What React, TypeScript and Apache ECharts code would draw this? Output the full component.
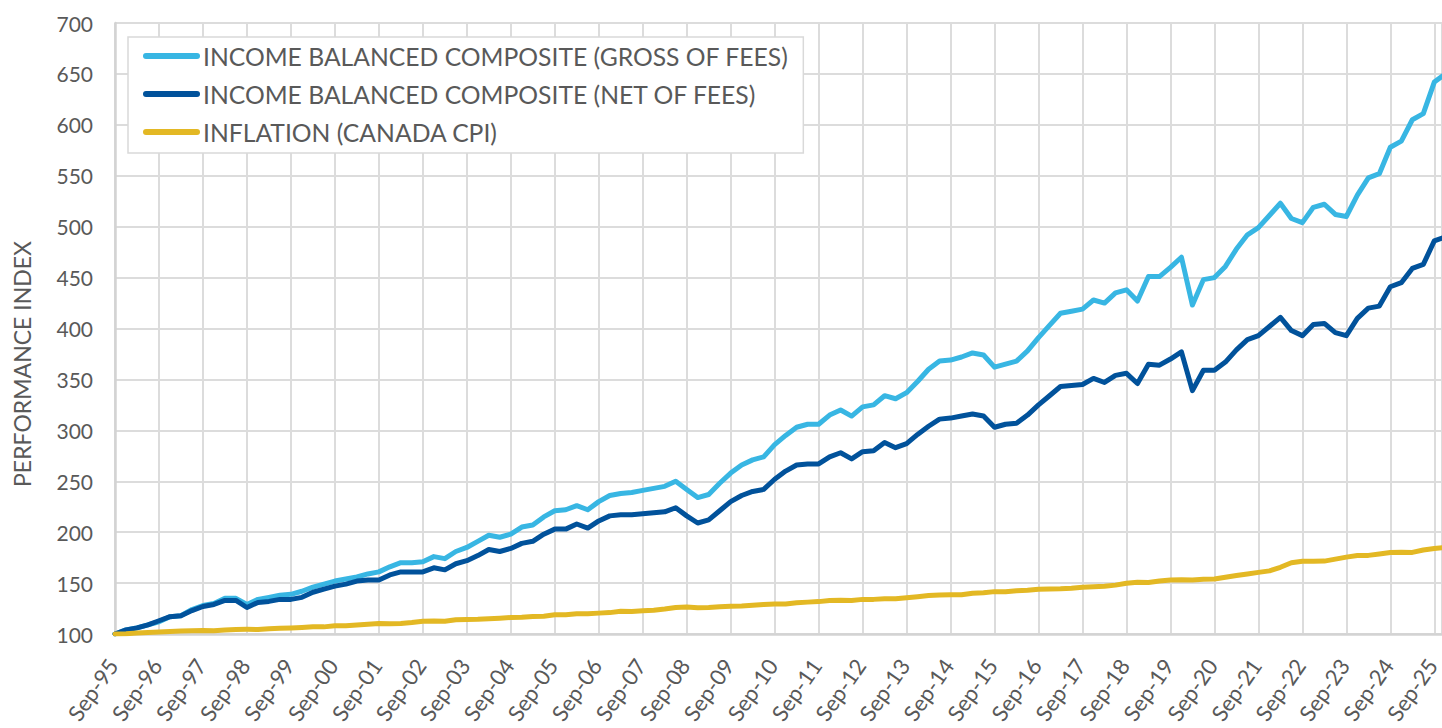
import React, { useEffect, useRef } from "react";
import * as echarts from "echarts";

// Year tick labels (one per 4 quarters)
const yearTickLabels = [
  "Sep-95", "Sep-96", "Sep-97", "Sep-98", "Sep-99", "Sep-00", "Sep-01", "Sep-02",
  "Sep-03", "Sep-04", "Sep-05", "Sep-06", "Sep-07", "Sep-08", "Sep-09", "Sep-10",
  "Sep-11", "Sep-12", "Sep-13", "Sep-14", "Sep-15", "Sep-16", "Sep-17", "Sep-18",
  "Sep-19", "Sep-20", "Sep-21", "Sep-22", "Sep-23", "Sep-24", "Sep-25",
];

const seriesNames = [
  "INCOME BALANCED COMPOSITE (GROSS OF FEES)",
  "INCOME BALANCED COMPOSITE (NET OF FEES)",
  "INFLATION (CANADA CPI)",
];

// Quarterly values, Sep-95 .. Dec-25
const grossValues = [
  100, 104, 106, 109, 112, 117, 118, 124, 128, 130,
  135, 135, 129, 134, 136, 138, 139, 142, 146, 149,
  152, 154, 156, 159, 161, 166, 170, 170, 171, 176,
  174, 181, 185, 191, 197, 195, 198, 205, 207, 215,
  221, 222, 226, 222, 230, 236, 238, 239, 241, 243,
  245, 250, 242, 234, 237, 248, 258, 266, 271, 274,
  286, 295, 303, 306, 306, 315, 320, 314, 323, 325,
  334, 331, 337, 348, 360, 368, 369, 372, 376, 374,
  362, 365, 368, 378, 391, 403, 415, 417, 419, 428,
  425, 435, 438, 427, 451, 451, 460, 470, 423, 448,
  450, 461, 478, 492, 499, 511, 523, 508, 504, 519,
  522, 512, 510, 531, 548, 552, 578, 584, 605, 611,
  642, 650,
];

const netValues = [
  100, 104, 106, 109, 113, 117, 118, 123, 127, 129,
  133, 133, 126, 131, 132, 134, 134, 136, 141, 144,
  147, 149, 152, 153, 153, 158, 161, 161, 161, 165,
  163, 169, 172, 177, 183, 181, 184, 189, 191, 198,
  203, 203, 208, 204, 211, 216, 217, 217, 218, 219,
  220, 224, 216, 209, 212, 221, 230, 236, 240, 242,
  252, 260, 266, 267, 267, 274, 278, 272, 279, 280,
  288, 283, 287, 296, 304, 311, 312, 314, 316, 314,
  303, 306, 307, 315, 325, 334, 343, 344, 345, 351,
  347, 354, 356, 346, 365, 364, 370, 377, 339, 359,
  359, 367, 379, 389, 393, 402, 411, 398, 393, 404,
  405, 396, 393, 410, 420, 422, 441, 445, 459, 463,
  486, 490,
];

const inflationValues = [
  100.0, 100.3, 100.9, 101.5, 102.0, 102.4, 102.9, 103.2, 103.4, 103.2,
  103.9, 104.5, 104.6, 104.5, 105.2, 105.6, 106.0, 106.5, 107.2, 107.0,
  108.0, 108.2, 108.8, 109.5, 110.2, 110.0, 110.4, 111.3, 112.5, 112.8,
  112.6, 114.0, 114.3, 114.5, 115.0, 115.5, 116.2, 116.5, 117.3, 117.5,
  118.8, 119.0, 119.8, 119.8, 120.5, 121.0, 122.3, 122.2, 122.8, 123.4,
  124.5, 126.0, 126.4, 125.7, 126.0, 126.8, 127.3, 127.6, 128.3, 129.0,
  129.5, 129.5, 130.6, 131.3, 131.8, 132.8, 133.2, 133.0, 134.0, 134.0,
  134.6, 134.7, 135.6, 136.6, 137.8, 138.3, 138.6, 138.5, 140.1, 140.4,
  141.6, 141.5, 142.4, 143.0, 144.0, 144.3, 144.4, 145.0, 146.0, 146.5,
  147.0, 148.0, 149.8, 150.8, 150.5, 152.0, 153.0, 153.2, 153.0, 153.8,
  154.0, 155.8, 157.5, 159.0, 160.5, 162.0, 165.5, 170.0, 171.5, 171.4,
  171.6, 173.5, 175.5, 177.0, 177.2, 178.5, 180.0, 180.2, 180.1, 182.5,
  184.0, 185.0,
];

const seriesColors = ["#38B6E3", "#01529B", "#E3B824"];
const TEXT_COLOR = "#595959";
const FONT = "Lato";

export default function App() {
  const ref = useRef<HTMLDivElement>(null);

  useEffect(() => {
    if (!ref.current) return;
    const chart = echarts.init(ref.current, undefined, { renderer: "svg" });
    const toPairs = (arr: number[]) => arr.map((v, i) => [i, v]);
    const lastTick = (yearTickLabels.length - 1) * 4;

    chart.setOption({
      animation: false,
      backgroundColor: "#ffffff",
      textStyle: { fontFamily: FONT },
      grid: {
        left: 115,
        top: 23,
        right: 0,
        bottom: 94,
        containLabel: false,
        outerBoundsMode: "none",
      },
      legend: {
        show: true,
        orient: "vertical",
        left: 128,
        top: 37,
        data: seriesNames,
        backgroundColor: "#ffffff",
        borderColor: "#D9D9D9",
        borderWidth: 1.5,
        borderRadius: 0,
        padding: [5, 15, 7, 15],
        itemGap: 10,
        itemWidth: 57,
        itemHeight: 6,
        icon: "path://M3,0 L54,0 A3,3 0 0 1 54,6 L3,6 A3,3 0 0 1 3,0 Z",
        textStyle: {
          color: TEXT_COLOR,
          fontSize: 24.7,
          fontFamily: FONT,
          lineHeight: 28,
          padding: [0, 0, 0, -2],
        },
      },
      xAxis: {
        type: "value",
        min: 0,
        max: lastTick + 0.7,
        interval: 4,
        axisLine: { show: true, lineStyle: { color: "#D3D3D3", width: 2.5 } },
        axisTick: { show: false },
        splitLine: { show: true, lineStyle: { color: "#DCDCDC", width: 2 } },
        axisLabel: {
          rotate: 55,
          margin: 24,
          padding: [0, 4, 0, 0],
          color: TEXT_COLOR,
          fontSize: 22,
          lineHeight: 16,
          fontFamily: FONT,
          showMaxLabel: true,
          formatter: (v: number) => {
            if (Math.abs(v % 4) > 1e-6) return "";
            const idx = Math.round(v / 4);
            return yearTickLabels[idx] ?? "";
          },
        },
      },
      yAxis: {
        type: "value",
        min: 100,
        max: 700,
        interval: 50,
        axisLine: { show: true, lineStyle: { color: "#D3D3D3", width: 2.5 } },
        axisTick: { show: false },
        splitLine: { show: true, lineStyle: { color: "#DCDCDC", width: 2 } },
        axisLabel: {
          margin: 22,
          color: TEXT_COLOR,
          fontSize: 21,
          fontFamily: FONT,
        },
      },
      graphic: [
        {
          type: "text",
          x: 22,
          y: 364,
          rotation: Math.PI / 2,
          style: {
            text: "PERFORMANCE INDEX",
            fill: TEXT_COLOR,
            font: `23px ${FONT}`,
            align: "center",
            verticalAlign: "middle",
          },
        },
      ],
      series: [
        {
          name: seriesNames[0],
          type: "line",
          data: toPairs(grossValues),
          showSymbol: false,
          symbol: "none",
          clip: true,
          color: seriesColors[0],
          lineStyle: { color: seriesColors[0], width: 5, cap: "round", join: "round" },
        },
        {
          name: seriesNames[1],
          type: "line",
          data: toPairs(netValues),
          showSymbol: false,
          symbol: "none",
          clip: true,
          color: seriesColors[1],
          lineStyle: { color: seriesColors[1], width: 5, cap: "round", join: "round" },
        },
        {
          name: seriesNames[2],
          type: "line",
          data: toPairs(inflationValues),
          showSymbol: false,
          symbol: "none",
          clip: true,
          color: seriesColors[2],
          lineStyle: { color: seriesColors[2], width: 5, cap: "round", join: "round" },
        },
      ],
    });

    return () => chart.dispose();
  }, []);

  return (
    <div
      ref={ref}
      style={{ position: "absolute", left: 0, top: 0, width: 1442, height: 728 }}
    />
  );
}
